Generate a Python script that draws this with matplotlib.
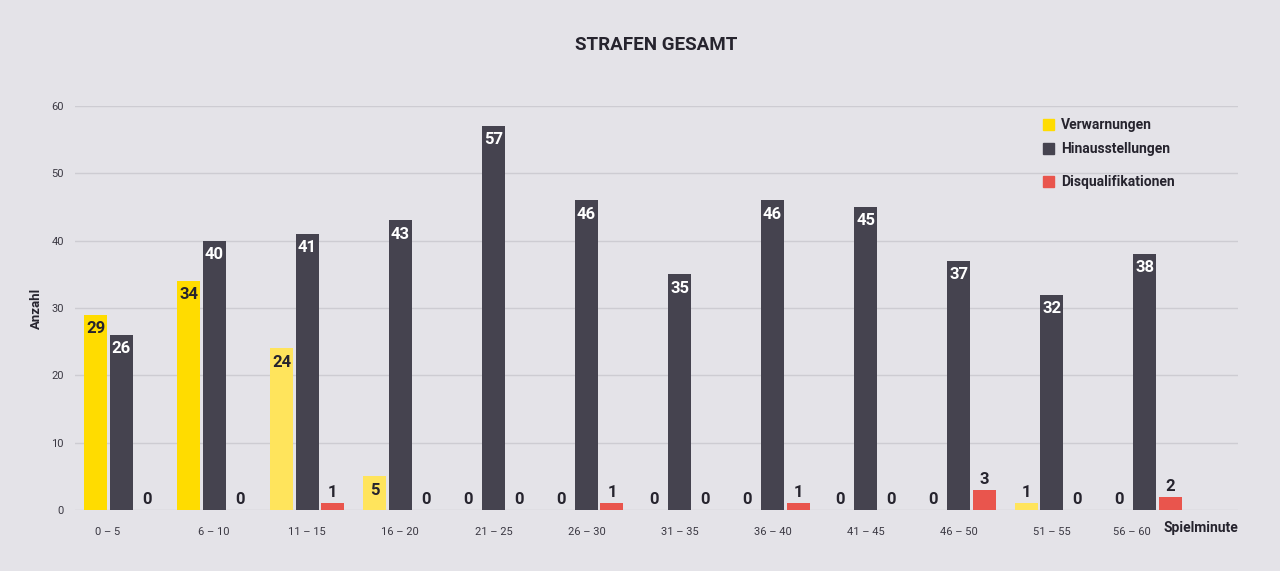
import matplotlib
matplotlib.use("Agg")
import matplotlib.pyplot as plt
import matplotlib.transforms as mtransforms
import numpy as np
from matplotlib.patches import Rectangle

categories = ["0 – 5", "6 – 10", "11 – 15", "16 – 20", "21 – 25", "26 – 30",
              "31 – 35", "36 – 40", "41 – 45", "46 – 50", "51 – 55", "56 – 60"]
verwarnungen = [29, 34, 24, 5, 0, 0, 0, 0, 0, 0, 1, 0]
hinaus = [26, 40, 41, 43, 57, 46, 35, 46, 45, 37, 32, 38]
disq = [0, 0, 1, 0, 0, 1, 0, 1, 0, 3, 0, 2]
series_names = ["Verwarnungen", "Hinausstellungen", "Disqualifikationen"]
y_ticks = [0, 10, 20, 30, 40, 50, 60]

plt.rcParams['font.family'] = ['Roboto', 'DejaVu Sans']

BG = "#E4E3E8"
YEL = "#FFDC00"
YEL_L = "#FFE45C"
DARK = "#45434F"
RED = "#E9554D"
TXT = "#26242E"
GRID = "#CDCCD2"

yel_colors = [YEL, YEL, YEL_L, YEL_L, YEL, YEL, YEL, YEL, YEL, YEL, YEL_L, YEL]

fig = plt.figure(figsize=(12.8, 5.71), dpi=100, facecolor=BG)
ax = fig.add_axes([75/1280, 1-510/571, (1238-75)/1280, (510-106)/571])
ax.set_facecolor(BG)

x = np.arange(len(categories))
w = 0.247
off = 0.274

b1 = ax.bar(x - off, verwarnungen, w, color=yel_colors, zorder=3)
b2 = ax.bar(x, hinaus, w, color=DARK, zorder=3)
b3 = ax.bar(x + off, disq, w, color=RED, zorder=3)

def label(bars, vals, inside_color):
    for b, v in zip(bars, vals):
        cx = b.get_x() + b.get_width()/2
        if v >= 5:
            ax.annotate(str(v), (cx, v), xytext=(0, -4.5), textcoords="offset points",
                        ha="center", va="top", fontsize=12, fontweight="bold",
                        color=inside_color, zorder=5)
        else:
            ax.annotate(str(v), (cx, v), xytext=(0, 2), textcoords="offset points",
                        ha="center", va="bottom", fontsize=12, fontweight="bold",
                        color=TXT, zorder=5)

label(b1, verwarnungen, TXT)
label(b2, hinaus, "white")
label(b3, disq, TXT)

ax.set_xlim(-0.495, 12.0)
ax.set_ylim(0, 60)
ax.set_yticks(y_ticks)
ax.set_yticklabels([str(t) for t in y_ticks], fontsize=8, color="#3A3842")
ax.set_xticks(x)
ax.set_xticklabels(categories, fontsize=8, color="#3A3842")
ax.tick_params(axis="both", length=0)
ax.tick_params(axis="y", pad=8)
ax.tick_params(axis="x", pad=12)
ax.grid(axis="y", color=GRID, linewidth=1, zorder=0)
for s in ax.spines.values():
    s.set_visible(False)

# shift first and last tick labels slightly left (as in the reference)
xt = ax.get_xticklabels()
for i in (0, len(xt) - 1):
    xt[i].set_transform(xt[i].get_transform() +
                        mtransforms.ScaledTranslation(-13/100, 0, fig.dpi_scale_trans))

ax.set_ylabel("Anzahl", fontsize=9.5, fontweight="bold", color=TXT, labelpad=6)
fig.text(1201/1280, 1-528/571, "Spielminute", ha="center", va="center",
         fontsize=10, fontweight="bold", color=TXT)
fig.text(656/1280, 1-45/571, "STRAFEN GESAMT", ha="center", va="center",
         fontsize=13.5, fontweight="bold", color=TXT)

# legend
leg_colors = [YEL, DARK, RED]
leg_y = [125, 149, 182]
for name, c, yy in zip(series_names, leg_colors, leg_y):
    fig.patches.append(Rectangle((1043/1280, 1-(yy+5)/571), 11/1280, 11/571,
                                 transform=fig.transFigure, color=c))
    fig.text(1061/1280, 1-yy/571, name, ha="left", va="center",
             fontsize=10, fontweight="bold", color=TXT)

fig.savefig("out.png", dpi=100, facecolor=BG)
